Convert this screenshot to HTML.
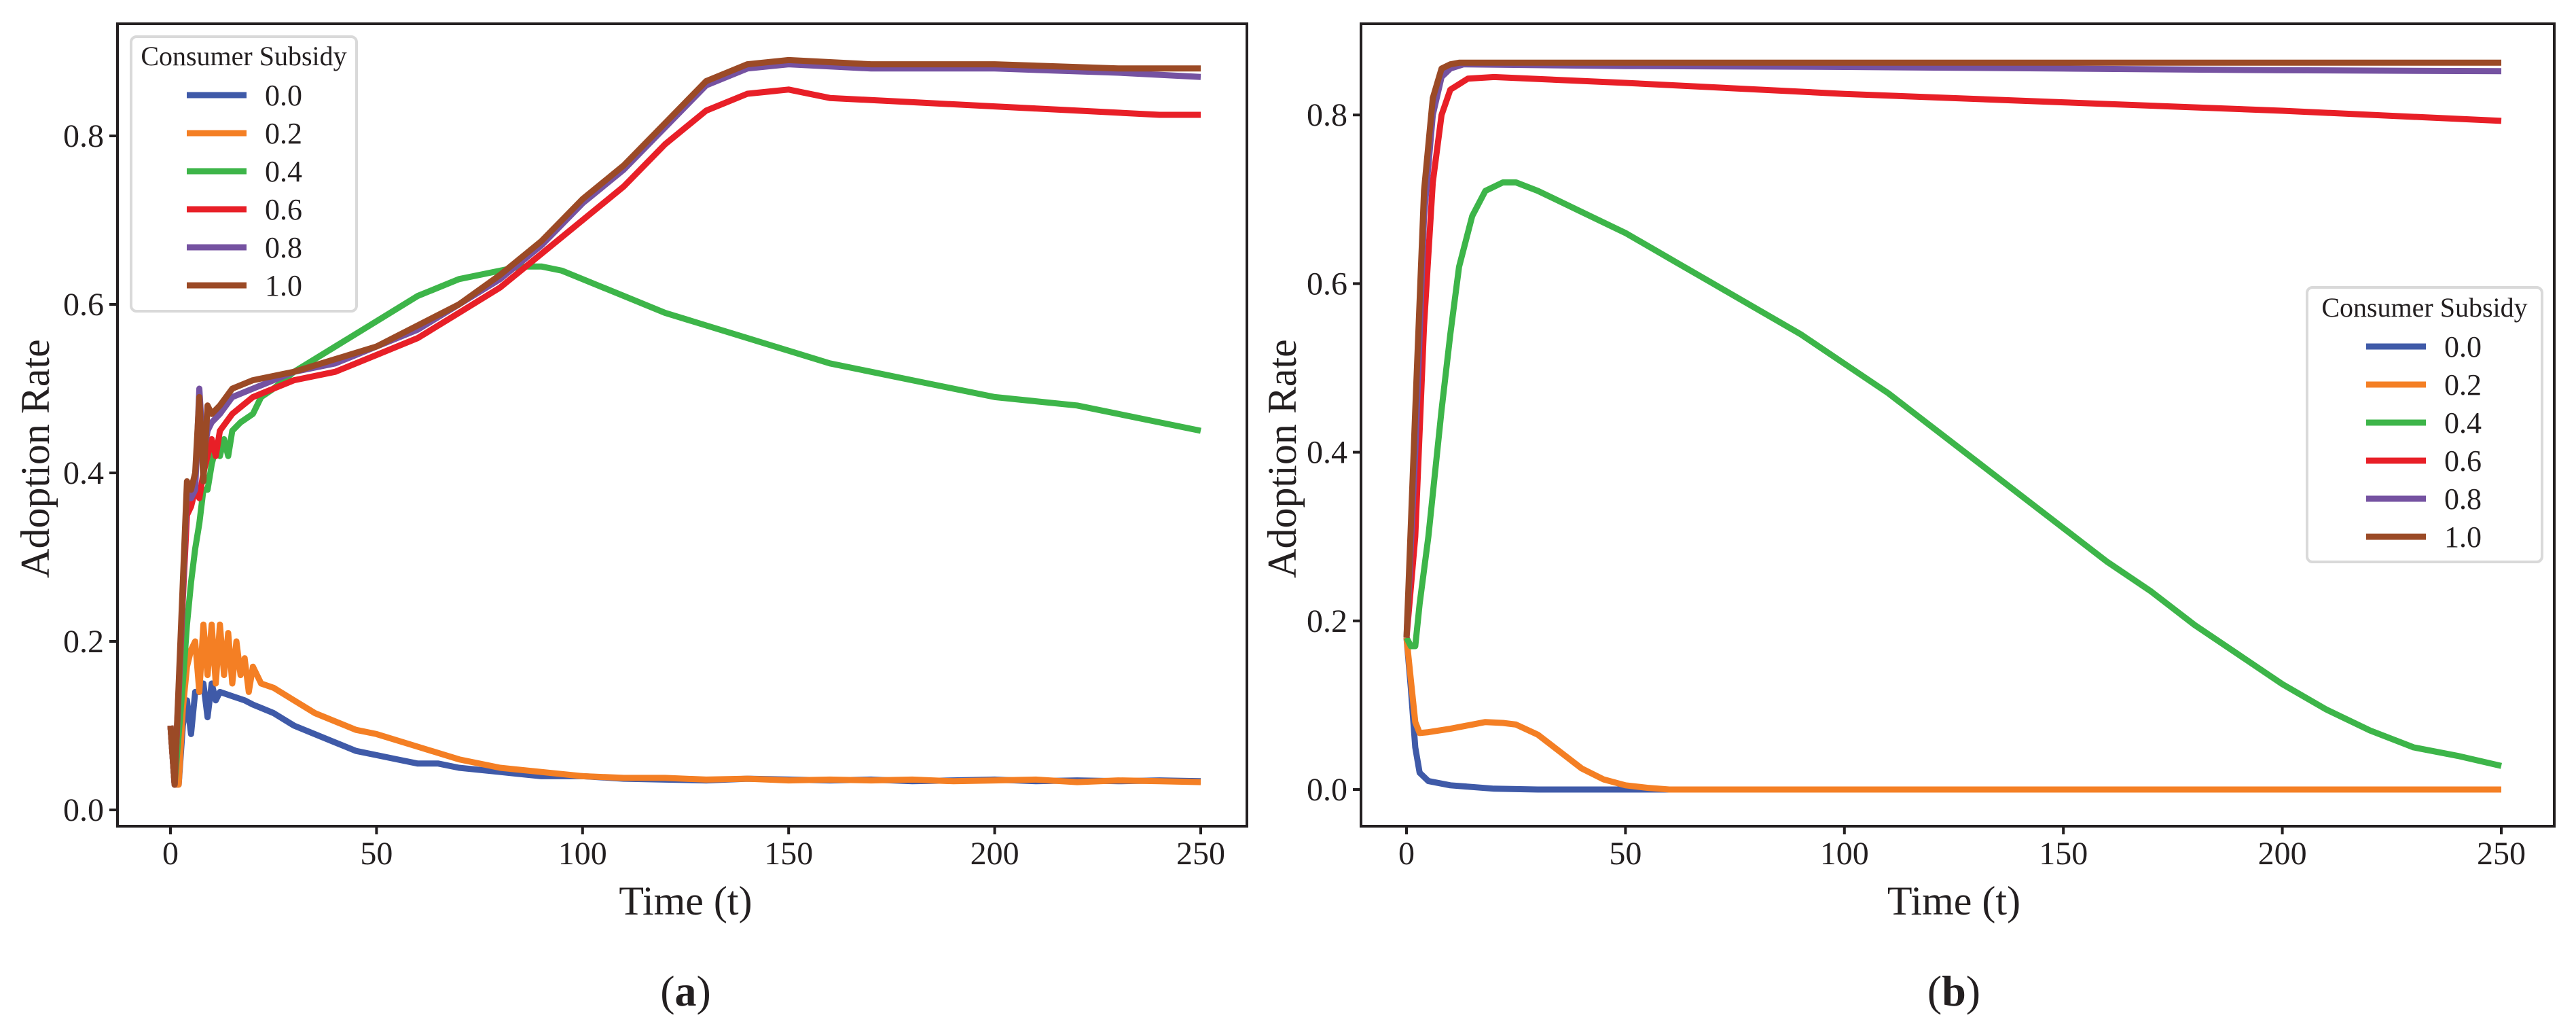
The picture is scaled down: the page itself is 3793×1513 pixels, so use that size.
<!DOCTYPE html>
<html><head><meta charset="utf-8">
<style>
html,body{margin:0;padding:0;background:#fff;}
svg{display:block;font-family:"Liberation Serif",serif;}
</style></head>
<body>
<svg id="fig" width="3793" height="1513" viewBox="0 0 3793 1513" xmlns="http://www.w3.org/2000/svg">
<rect width="3793" height="1513" fill="#fff"/>
</svg>
<script>
// ---------- Panel (a) data ----------
const timesA_blue   = [0,1,2,3,4,5,6,7,8,9,10,11,12,15,18,20,25,30,35,40,45,50,55,60,65,70,80,90,100,110,120,130,140,150,160,170,180,190,200,210,220,230,240,250];
const valuesA_blue  = [0.10,0.03,0.03,0.10,0.13,0.09,0.14,0.14,0.15,0.11,0.15,0.13,0.14,0.135,0.13,0.125,0.115,0.10,0.09,0.08,0.07,0.065,0.06,0.055,0.055,0.05,0.045,0.04,0.04,0.037,0.036,0.035,0.037,0.036,0.035,0.036,0.034,0.035,0.036,0.034,0.035,0.034,0.035,0.034];
const timesA_orange = [0,1,2,3,4,5,6,7,8,9,10,11,12,13,14,15,16,17,18,19,20,22,25,30,35,40,45,50,60,70,80,90,100,110,120,130,140,150,160,170,180,190,200,210,220,230,240,250];
const valuesA_orange= [0.10,0.03,0.03,0.12,0.17,0.19,0.20,0.14,0.22,0.16,0.22,0.15,0.22,0.16,0.21,0.15,0.20,0.16,0.18,0.14,0.17,0.15,0.145,0.13,0.115,0.105,0.095,0.09,0.075,0.06,0.05,0.045,0.04,0.038,0.038,0.036,0.037,0.035,0.036,0.035,0.036,0.034,0.035,0.036,0.033,0.035,0.034,0.033];
const timesA_green  = [0,1,3,4,5,6,7,8,9,10,11,12,13,14,15,17,20,22,25,30,40,50,60,70,80,85,90,95,100,110,120,130,140,150,160,170,180,190,200,210,220,230,240,250];
const valuesA_green = [0.10,0.03,0.15,0.22,0.27,0.31,0.34,0.38,0.38,0.41,0.43,0.42,0.44,0.42,0.45,0.46,0.47,0.49,0.50,0.52,0.55,0.58,0.61,0.63,0.64,0.645,0.645,0.64,0.63,0.61,0.59,0.575,0.56,0.545,0.53,0.52,0.51,0.50,0.49,0.485,0.48,0.47,0.46,0.45];
const timesA_red    = [0,1,3,4,5,6,7,8,9,10,11,12,15,20,25,30,40,50,60,70,80,90,100,110,120,130,140,150,160,180,200,220,240,250];
const valuesA_red   = [0.10,0.03,0.25,0.35,0.36,0.38,0.37,0.40,0.42,0.44,0.42,0.45,0.47,0.49,0.50,0.51,0.52,0.54,0.56,0.59,0.62,0.66,0.70,0.74,0.79,0.83,0.85,0.855,0.845,0.84,0.835,0.83,0.825,0.825];
const timesA_purple = [0,1,3,4,5,6,7,8,9,10,12,15,20,30,40,50,60,70,80,90,100,110,120,130,140,150,170,200,230,250];
const valuesA_purple= [0.10,0.03,0.26,0.38,0.37,0.38,0.50,0.42,0.45,0.46,0.47,0.49,0.50,0.52,0.53,0.55,0.57,0.60,0.63,0.67,0.72,0.76,0.81,0.86,0.88,0.885,0.88,0.88,0.875,0.87];
const timesA_brown  = [0,1,3,4,5,6,7,8,9,10,12,15,20,30,40,50,60,70,80,90,100,110,120,130,140,150,170,200,230,250];
const valuesA_brown = [0.10,0.03,0.27,0.39,0.38,0.40,0.49,0.39,0.48,0.47,0.48,0.50,0.51,0.52,0.535,0.55,0.575,0.60,0.635,0.675,0.725,0.765,0.815,0.865,0.885,0.89,0.885,0.885,0.88,0.88];

// ---------- Panel (b) data ----------
const timesB_blue   = [0,1,2,3,5,10,20,30,60,100,150,200,250];
const valuesB_blue  = [0.18,0.12,0.05,0.02,0.01,0.005,0.001,0,0,0,0,0,0];
const timesB_orange = [0,1,2,3,5,10,15,18,22,25,30,35,40,45,50,55,60,100,150,200,250];
const valuesB_orange= [0.18,0.13,0.08,0.067,0.068,0.072,0.077,0.08,0.079,0.077,0.065,0.045,0.025,0.012,0.005,0.002,0,0,0,0,0];
const timesB_green  = [0,1,2,3,5,8,10,12,15,18,22,25,30,40,50,60,70,80,90,100,110,120,130,140,150,160,170,180,190,200,210,220,230,240,250];
const valuesB_green = [0.18,0.17,0.17,0.22,0.30,0.45,0.54,0.62,0.68,0.71,0.72,0.72,0.71,0.685,0.66,0.63,0.60,0.57,0.54,0.505,0.47,0.43,0.39,0.35,0.31,0.27,0.235,0.195,0.16,0.125,0.095,0.07,0.05,0.04,0.028];
const timesB_red    = [0,2,4,6,8,10,14,20,50,100,150,200,250];
const valuesB_red   = [0.18,0.30,0.55,0.72,0.80,0.83,0.843,0.845,0.838,0.825,0.815,0.805,0.793];
const timesB_purple = [0,2,4,6,8,10,13,50,100,150,200,250];
const valuesB_purple= [0.18,0.40,0.68,0.80,0.845,0.855,0.86,0.858,0.857,0.855,0.853,0.852];
const timesB_brown  = [0,2,4,6,8,10,12,250];
const valuesB_brown = [0.18,0.45,0.71,0.82,0.855,0.86,0.862,0.862];

const xTicks = [0,50,100,150,200,250];
const yTicks = [0.0,0.2,0.4,0.6,0.8];
const legendLabels = ["0.0","0.2","0.4","0.6","0.8","1.0"];
const colors = ["#3f5aa8","#f47f24","#3db549","#e81f27","#7552a1","#9b4a26"];

const NS = "http://www.w3.org/2000/svg";
const svg = document.getElementById("fig");
function mk(tag, attrs, parent){
  const e = document.createElementNS(NS, tag);
  for (const k in attrs) e.setAttribute(k, attrs[k]);
  (parent||svg).appendChild(e);
  return e;
}

const panels = [
  {id:"a", left:173, right:1836, top:35, bottom:1216, x0:251, x250:1768, y0:1192, yPer:1240,
   legend:{x:193, y:54, w:332, h:404, titleY:96, firstY:140},
   series:[[timesA_blue,valuesA_blue],[timesA_orange,valuesA_orange],[timesA_green,valuesA_green],[timesA_red,valuesA_red],[timesA_purple,valuesA_purple],[timesA_brown,valuesA_brown]],
   ylabelX:52},
  {id:"b", left:2004, right:3761, top:35, bottom:1216, x0:2071, x250:3683, y0:1162, yPer:1241,
   legend:{x:3397, y:423, w:346, h:404, titleY:466, firstY:510},
   series:[[timesB_blue,valuesB_blue],[timesB_orange,valuesB_orange],[timesB_green,valuesB_green],[timesB_red,valuesB_red],[timesB_purple,valuesB_purple],[timesB_brown,valuesB_brown]],
   ylabelX:1888}
];

panels.forEach(p=>{
  const xs = t => p.x0 + (p.x250 - p.x0) * t / 250;
  const ys = v => p.y0 - p.yPer * v;
  const g = mk("g", {});
  
  

  p.series.forEach((s, i)=>{
    const [ts, vs] = s;
    const d = ts.map((t,k)=>(k?"L":"M")+xs(t).toFixed(1)+","+ys(vs[k]).toFixed(1)).join(" ");
    const path = mk("path", {d:d, fill:"none", stroke:colors[i], "stroke-width":9, "stroke-linejoin":"round", "stroke-linecap":"butt"}, g);
    
    
  });

  const frame = mk("rect", {x:p.left, y:p.top, width:p.right-p.left, height:p.bottom-p.top, fill:"none", stroke:"#231f20", "stroke-width":4}, g);
  
  

  xTicks.forEach(t=>{
    const x = xs(t);
    mk("line", {x1:x, x2:x, y1:p.bottom, y2:p.bottom+12, stroke:"#231f20", "stroke-width":4}, g);
    const tx = mk("text", {x:x, y:1272, "font-size":48, "text-anchor":"middle", fill:"#231f20"}, g);
    tx.textContent = String(t);
    
    
  });
  yTicks.forEach(v=>{
    const y = ys(v);
    mk("line", {x1:p.left-12, x2:p.left, y1:y, y2:y, stroke:"#231f20", "stroke-width":4}, g);
    const ty = mk("text", {x:p.left-20, y:y+16, "font-size":48, "text-anchor":"end", fill:"#231f20"}, g);
    ty.textContent = v.toFixed(1);
    
    
  });

  const xt = mk("text", {x:(xs(0)+xs(250))/2, y:1346, "font-size":60, "text-anchor":"middle", fill:"#231f20"}, g);
  xt.textContent = "Time (t)";
  
  
  const yt = mk("text", {x:0, y:0, "font-size":60, "text-anchor":"middle", fill:"#231f20",
    transform:"translate("+(p.ylabelX+20)+",675) rotate(-90)"}, g);
  yt.textContent = "Adoption Rate";
  
  

  const cap = mk("text", {x:(xs(0)+xs(250))/2, y:1480, "font-size":64, "text-anchor":"middle", fill:"#231f20"}, g);
  cap.innerHTML = '(<tspan font-weight="bold">'+p.id+'</tspan>)';
  
  

  const L = p.legend;
  const lg = mk("g", {}, g);
  
  
  mk("rect", {x:L.x, y:L.y, width:L.w, height:L.h, rx:8, fill:"#fff", stroke:"#d9d9d9", "stroke-width":4}, lg);
  const lt = mk("text", {x:L.x+L.w/2, y:L.titleY, "font-size":40, "text-anchor":"middle", fill:"#231f20"}, lg);
  lt.textContent = "Consumer Subsidy";
  
  
  legendLabels.forEach((lab,i)=>{
    const y = L.firstY + 56*i;
    const hx = L.x + (p.id==="a" ? 82 : 87);
    const entry = mk("g", {}, lg);
    
    
    mk("line", {x1:hx, x2:hx+88, y1:y, y2:y, stroke:colors[i], "stroke-width":9}, entry);
    const tl = mk("text", {x:hx+115, y:y+15, "font-size":44, fill:"#231f20"}, entry);
    tl.textContent = lab;
  });
});
</script>
</body></html>
